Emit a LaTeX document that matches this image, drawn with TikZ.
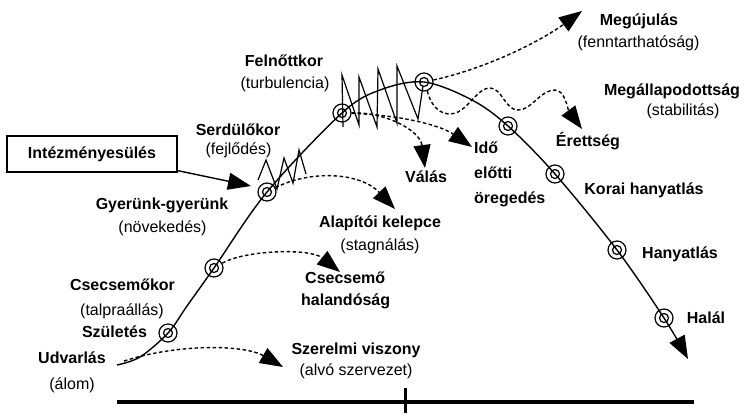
\documentclass[tikz,border=0pt]{standalone}
\usepackage{fontspec}
\setmainfont{Liberation Sans}
\usetikzlibrary{arrows.meta}
\begin{document}
\begin{tikzpicture}[x=1pt,y=-1pt,
  lbl/.style={font=\fontsize{16}{19}\selectfont\bfseries, anchor=base, inner sep=0pt},
  sub/.style={font=\fontsize{16}{19}\selectfont, anchor=base, inner sep=0pt},
  ring/.style={circle, draw, line width=1.2pt, minimum size=18pt, inner sep=0pt,
    path picture={\draw[line width=1.2pt] (path picture bounding box.center) circle (4.5pt);}},
  tip/.style={-{Triangle[length=23pt,width=17pt]}},
  flow/.style={dash pattern=on 3.5pt off 2.5pt, line width=1.4pt, tip},
  life/.style={line width=1.4pt},
  zig/.style={line width=1.2pt, line join=miter}]
\useasboundingbox (0,0) rectangle (744,416);

% stages on the life curve
\node[ring] (c1) at (168,333) {};
\node[ring] (c2) at (214,268) {};
\node[ring] (c3) at (267,192) {};
\node[ring] (c4) at (342,113) {};
\node[ring] (c5) at (424,82) {};
\node[ring] (c6) at (508,126) {};
\node[ring] (c7) at (555,174) {};
\node[ring] (c8) at (617,250) {};
\node[ring] (c9) at (664,318) {};
\coordinate (start) at (117,365);
\coordinate (end) at (688,359);

% the life curve
\draw[life, tip] plot[smooth, tension=0.55] coordinates
  {(start) (140,357) (c1.center) (187,306) (c2.center) (c3.center) (c4.center)
   (380,90) (c5.center) (472,100) (c6.center) (c7.center) (c8.center) (c9.center) (end)};

% turbulence zigzags
\draw[zig] (258,180) -- (266,160) -- (277,189) -- (284,158) -- (293,183) -- (299,150) -- (306,174);
\draw[zig] (343,127) -- (342,75) -- (359,125) -- (359,77) -- (377,127) -- (378,69)
  -- (397,123) -- (397,66) -- (418,119) -- (423,86);

% time axis
\draw[line width=3.5pt] (117,402) -- (694,402);
\draw[line width=3pt] (405,388) -- (405,413);

% labels along the curve
\node[lbl] (felnott) at (284,66) {Felnőttkor};
\node[sub] (turb) at (285,88.5) {(turbulencia)};
\node[lbl] (serdulo) at (238,135) {Serdülőkor};
\node[sub] (fejl) at (238.5,154.5) {(fejlődés)};
\node[lbl] (gyerunk) at (162,209) {Gyerünk-gyerünk};
\node[sub] (novek) at (162.5,232) {(növekedés)};
\node[lbl] (csecsk) at (122.5,290) {Csecsemőkor};
\node[sub] (talpra) at (122,315) {(talpraállás)};
\node[lbl] (szul) at (114.5,337) {Születés};
\node[lbl] (udvar) at (72,363) {Udvarlás};
\node[sub] (alom) at (72,389) {(álom)};
\node[lbl] (megujul) at (639,25) {Megújulás};
\node[sub] (fennt) at (638.5,47) {(fenntarthatóság)};
\node[lbl] (megall) at (672,95) {Megállapodottság};
\node[sub] (stab) at (683,115) {(stabilitás)};
\node[lbl] (erett) at (588,146) {Érettség};
\node[lbl] (korai) at (644,194) {Korai hanyatlás};
\node[lbl] (hany) at (680,258) {Hanyatlás};
\node[lbl] (halal) at (706,323) {Halál};

% labels of the side tracks
\node[lbl] (szerelmi) at (356,354) {Szerelmi viszony};
\node[sub] (alvo) at (356,375) {(alvó szervezet)};
\node[lbl, anchor=base west] (csecs1) at (305,283) {Csecsemő};
\node[lbl, anchor=base west] (csecs2) at (301,305) {halandóság};
\node[lbl] (alapit) at (380,227) {Alapítói kelepce};
\node[sub] (stagn) at (380,250) {(stagnálás)};
\node[lbl] (valas) at (426,182) {Válás};
\node[lbl, anchor=base west] (ido1) at (474,153) {Idő};
\node[lbl, anchor=base west] (ido2) at (474,178) {előtti};
\node[lbl, anchor=base west] (ido3) at (474,203) {öregedés};

% institutionalisation box
\node[draw, line width=1.2pt, minimum width=170pt, minimum height=36pt, inner sep=0pt,
  font=\fontsize{16}{19}\selectfont\bfseries] (inst) at (92,154) {Intézményesülés};
\coordinate (instTip) at (251,186);
\draw[line width=1.4pt, tip] ([yshift=2pt]inst.south east) -- (instTip);

% side tracks (dashed)
\coordinate (s0) at (124,361);
\coordinate (t1) at (283,367);
\coordinate (t2) at (340,272);
\coordinate (t3) at (395,209);
\coordinate (t4) at (425,168);
\coordinate (t5) at (472,147);
\coordinate (t6) at (582,11);
\coordinate (t7) at (582,129);
\draw[flow] (s0) .. controls (180,343) and (245,345) .. (t1);
\draw[flow] (c2) .. controls (245,250) and (310,248) .. (t2);
\draw[flow] (c3) .. controls (310,170) and (360,172) .. (t3);
\draw[flow] (c4) .. controls (385,112) and (420,130) .. (t4);
\draw[flow] (c4) .. controls (400,115) and (440,125) .. (t5);
\draw[flow] (c5) .. controls (480,70) and (535,45) .. (t6);
\draw[flow] (c5.-70) .. controls (432,110) and (445,118) .. (458,112)
  .. controls (470,106) and (478,88) .. (490,88)
  .. controls (502,88) and (505,110) .. (518,110)
  .. controls (532,110) and (540,90) .. (555,90)
  .. controls (565,90) and (568,110) .. (t7);
\end{tikzpicture}
\end{document}
